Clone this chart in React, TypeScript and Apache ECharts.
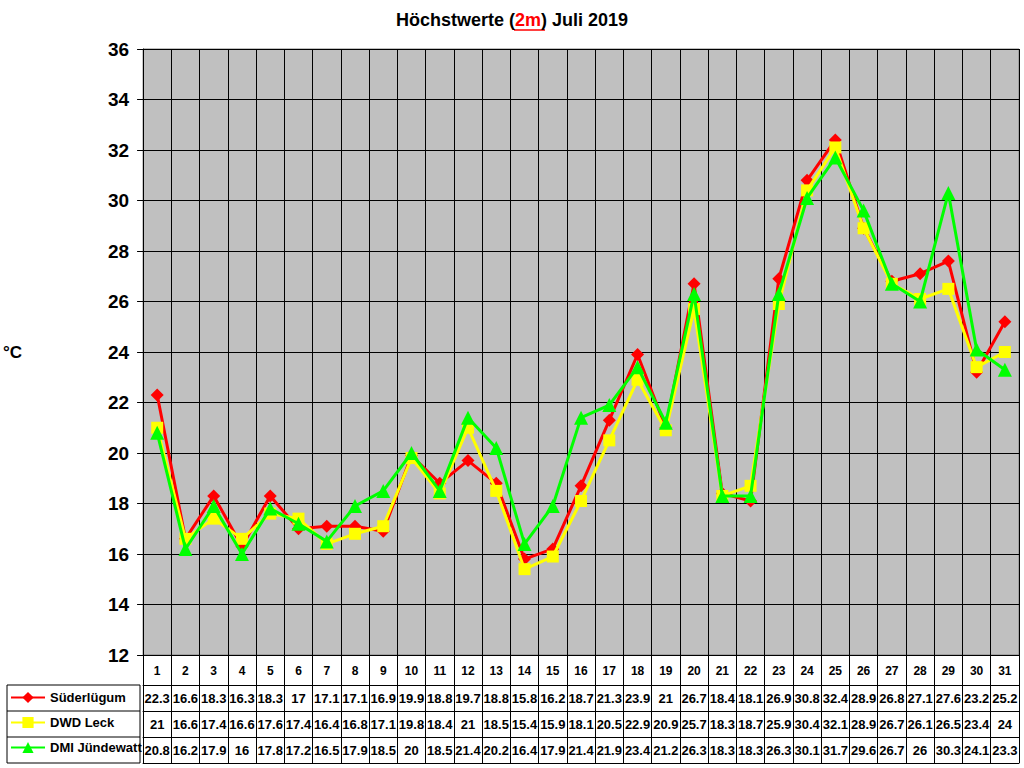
import { useEffect, useRef } from 'react';
import * as echarts from 'echarts';

const days = Array.from({ length: 31 }, (_, i) => String(i + 1));

const suederluegum = [22.3, 16.6, 18.3, 16.3, 18.3, 17, 17.1, 17.1, 16.9, 19.9, 18.8, 19.7, 18.8, 15.8, 16.2, 18.7, 21.3, 23.9, 21, 26.7, 18.4, 18.1, 26.9, 30.8, 32.4, 28.9, 26.8, 27.1, 27.6, 23.2, 25.2];
const dwdLeck = [21, 16.6, 17.4, 16.6, 17.6, 17.4, 16.4, 16.8, 17.1, 19.8, 18.4, 21, 18.5, 15.4, 15.9, 18.1, 20.5, 22.9, 20.9, 25.7, 18.3, 18.7, 25.9, 30.4, 32.1, 28.9, 26.7, 26.1, 26.5, 23.4, 24];
const dmiJuendewatt = [20.8, 16.2, 17.9, 16, 17.8, 17.2, 16.5, 17.9, 18.5, 20, 18.5, 21.4, 20.2, 16.4, 17.9, 21.4, 21.9, 23.4, 21.2, 26.3, 18.3, 18.3, 26.3, 30.1, 31.7, 29.6, 26.7, 26, 30.3, 24.1, 23.3];

const seriesNames = ['Süderlügum', 'DWD Leck', 'DMI Jündewatt'];
const seriesColors = ['#FF0000', '#FFFF00', '#00FF00'];
const seriesSymbols = ['diamond', 'rect', 'triangle'];
const seriesData = [suederluegum, dwdLeck, dmiJuendewatt];

const FONT = '"Liberation Sans", Arial, sans-serif';

export default function App() {
  const chartRef = useRef<HTMLDivElement>(null);

  useEffect(() => {
    if (!chartRef.current) return;
    const chart = echarts.init(chartRef.current, undefined, { renderer: 'svg' });

    const gridLeft = 140;
    const gridTop = 49;
    const gridBottomY = 655;
    const headerH = 30;
    const rowH = 26;

    // table rows drawn as extra category axes under the plot
    const tableAxes: any[] = seriesData.map((vals, i) => ({
      type: 'category',
      gridIndex: 0,
      position: 'bottom',
      offset: headerH + i * rowH,
      data: vals.map((v) => String(v)),
      boundaryGap: true,
      axisLine: { show: true, lineStyle: { color: '#000', width: 1 } },
      axisTick: { show: true, interval: 0, length: rowH, lineStyle: { color: '#000' } },
      axisLabel: {
        interval: 0,
        margin: 7,
        color: '#000',
        fontFamily: FONT,
        fontWeight: 'bold',
        fontSize: 13,
      },
      splitLine: { show: false },
    }));

    const option: echarts.EChartsOption = {
      animation: false,
      backgroundColor: '#fff',
      title: {
        text: '{a|Höchstwerte (}{r|2m}{a|) Juli 2019}',
        left: 'center',
        top: 11,
        padding: 0,
        textStyle: {
          rich: {
            a: { color: '#000', fontFamily: FONT, fontWeight: 'bold', fontSize: 18 },
            r: { color: '#FF0000', fontFamily: FONT, fontWeight: 'bold', fontSize: 18 },
          },
        },
      },
      legend: {
        orient: 'vertical',
        left: 10,
        top: 691,
        padding: 0,
        itemWidth: 34,
        itemHeight: 14,
        itemGap: 12,
        textStyle: { color: '#000', fontFamily: FONT, fontWeight: 'bold', fontSize: 13 },
        data: seriesNames,
      },
      grid: {
        left: gridLeft,
        top: gridTop,
        right: 5,
        bottom: 768 - gridBottomY,
        show: true,
        backgroundColor: '#C0C0C0',
        borderColor: '#808080',
        borderWidth: 1,
      },
      xAxis: [
        {
          type: 'category',
          gridIndex: 0,
          position: 'bottom',
          data: days,
          boundaryGap: true,
          axisLine: { show: true, lineStyle: { color: '#000', width: 1 } },
          axisTick: { show: true, interval: 0, length: headerH, lineStyle: { color: '#000' } },
          axisLabel: {
            interval: 0,
            margin: 10,
            color: '#000',
            fontFamily: FONT,
            fontWeight: 'bold',
            fontSize: 12,
          },
          splitLine: { show: true, interval: 0, lineStyle: { color: '#000', width: 1 } },
        },
        ...tableAxes,
        {
          type: 'category',
          gridIndex: 0,
          position: 'bottom',
          offset: headerH + 3 * rowH,
          data: days,
          axisLine: { show: true, lineStyle: { color: '#000', width: 1 } },
          axisTick: { show: false },
          axisLabel: { show: false },
          splitLine: { show: false },
        },
      ],
      yAxis: {
        type: 'value',
        min: 12,
        max: 36,
        interval: 2,
        name: '°C',
        nameLocation: 'middle',
        nameRotate: 0,
        nameGap: 121,
        nameTextStyle: { color: '#000', fontFamily: FONT, fontWeight: 'bold', fontSize: 17 },
        axisLine: { show: true, lineStyle: { color: '#000', width: 1 } },
        axisTick: { show: true, length: 6, lineStyle: { color: '#000' } },
        axisLabel: {
          margin: 14,
          color: '#000',
          fontFamily: FONT,
          fontWeight: 'bold',
          fontSize: 19,
        },
        splitLine: { show: true, lineStyle: { color: '#000', width: 1 } },
      },
      series: seriesData.map((vals, i) => ({
        name: seriesNames[i],
        type: 'line',
        xAxisIndex: 0,
        yAxisIndex: 0,
        data: vals,
        symbol: seriesSymbols[i],
        symbolSize: i === 0 ? 13 : i === 1 ? 12 : 14,
        showAllSymbol: true,
        lineStyle: { color: seriesColors[i], width: 3 },
        itemStyle: { color: seriesColors[i], borderWidth: 0 },
        emphasis: { disabled: true },
        z: 2 + i,
      })),
      graphic: [
        {
          type: 'line',
          shape: { x1: 514, y1: 30, x2: 545, y2: 30 },
          style: { stroke: '#FF0000', lineWidth: 1.5 },
        },
        {
          type: 'rect',
          shape: { x: 7, y: 685, width: gridLeft - 7, height: 3 * rowH },
          style: { fill: 'none', stroke: '#000', lineWidth: 1 },
        },
        {
          type: 'line',
          shape: { x1: 7, y1: 685 + rowH, x2: gridLeft, y2: 685 + rowH },
          style: { stroke: '#000', lineWidth: 1 },
        },
        {
          type: 'line',
          shape: { x1: 7, y1: 685 + 2 * rowH, x2: gridLeft, y2: 685 + 2 * rowH },
          style: { stroke: '#000', lineWidth: 1 },
        },
      ],
    };

    chart.setOption(option);

    return () => {
      chart.dispose();
    };
  }, []);

  return (
    <div
      ref={chartRef}
      style={{ position: 'fixed', left: 0, top: 0, width: 1024, height: 768 }}
    />
  );
}
